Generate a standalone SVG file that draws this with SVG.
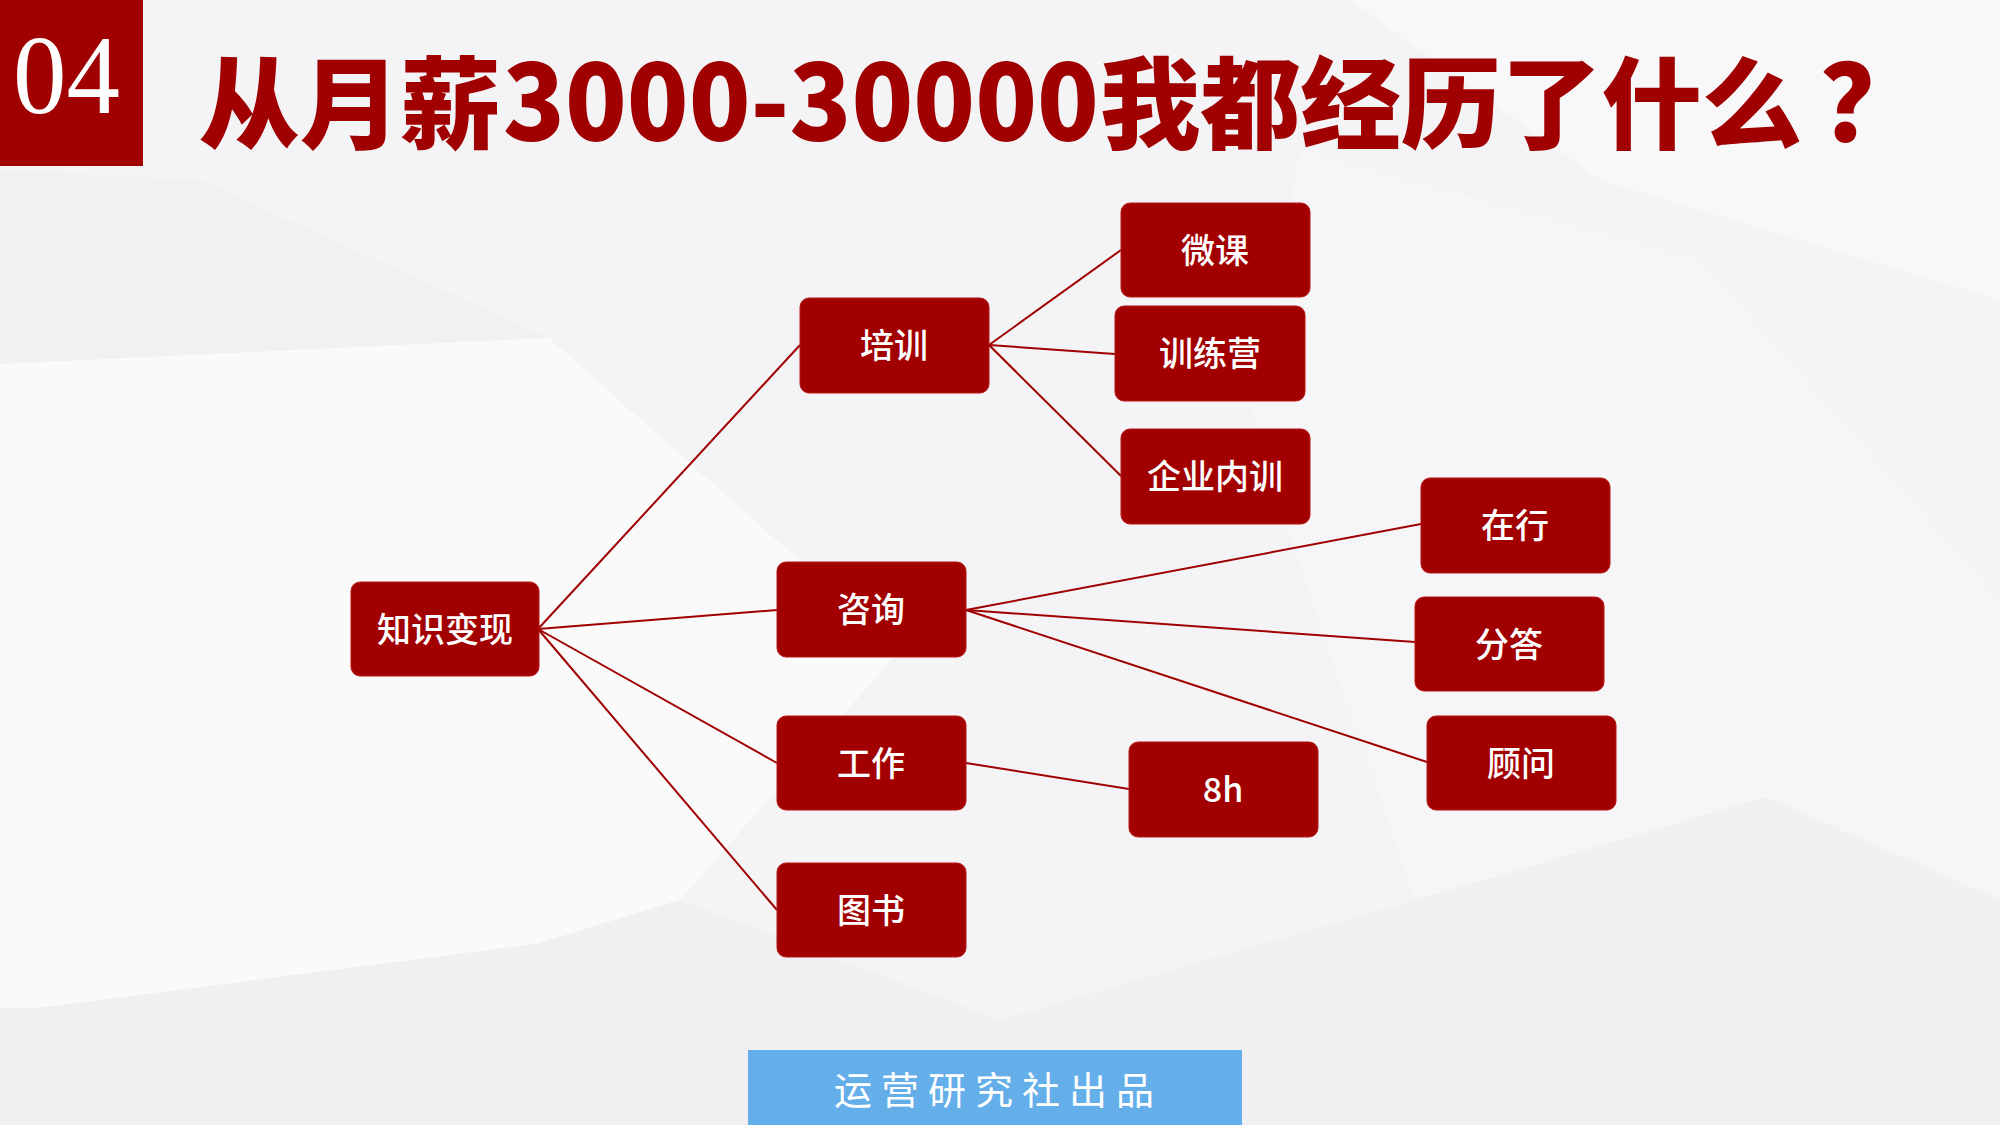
<svg xmlns="http://www.w3.org/2000/svg" width="2000" height="1125" viewBox="0 0 2000 1125">
<style>
.node rect{fill:#a20000;stroke:#b81414;stroke-width:1}
.node text{fill:#ffffff;font-family:"Noto Sans CJK SC","Noto Sans",sans-serif;font-size:34px;font-weight:500;text-anchor:middle}
#connectors line{stroke:#a00000;stroke-width:2}
</style>
<g id="background">
<rect x="0" y="0" width="2000" height="1125" fill="#f4f4f6"/>
<polygon points="0,170 200,180 549,338 0,364" fill="#f1f1f3"/>
<polygon points="0,364 549,338 900,650 680,900 536,944 38,1008 0,1008" fill="#fafafb"/>
<polygon points="0,1008 38,1008 536,944 680,900 1000,1020 1415,900 1766,797 2000,900 2000,1125 0,1125" fill="#f0f0f2"/>
<polygon points="1350,0 2000,0 2000,300 1600,180" fill="#f8f8fa"/>
<polygon points="1300,150 1700,260 2000,600 2000,900 1766,797 1415,900 1250,420" fill="#f6f6f8"/>
</g>
<g id="header">
<rect x="0" y="0" width="143" height="166" fill="#a00000"/>
<text x="13" y="113" font-family="Liberation Serif, serif" font-size="112" fill="#ffffff" textLength="107" lengthAdjust="spacingAndGlyphs">04</text>
<text y="141" font-family="Noto Sans CJK SC, sans-serif" font-size="106" font-weight="900" fill="#a00000"><tspan x="199" font-size="100" textLength="302" lengthAdjust="spacingAndGlyphs">从月薪</tspan><tspan x="503" textLength="596" lengthAdjust="spacingAndGlyphs">3000-30000</tspan><tspan x="1100" font-size="100" textLength="702" lengthAdjust="spacingAndGlyphs">我都经历了什么</tspan><tspan x="1820">？</tspan></text>
</g>
<g id="connectors">
<line x1="538" y1="629" x2="800" y2="345"/>
<line x1="538" y1="629" x2="777" y2="610"/>
<line x1="538" y1="629" x2="777" y2="763"/>
<line x1="538" y1="629" x2="777" y2="910"/>
<line x1="989" y1="345" x2="1121" y2="250"/>
<line x1="989" y1="345" x2="1115" y2="354"/>
<line x1="989" y1="345" x2="1121" y2="476"/>
<line x1="966" y1="610" x2="1421" y2="524"/>
<line x1="966" y1="610" x2="1415" y2="642"/>
<line x1="966" y1="610" x2="1427" y2="762"/>
<line x1="966" y1="763" x2="1129" y2="789"/>
</g>
<g id="n-zhishi" class="node"><rect x="351" y="582" width="188" height="94" rx="9"/><text x="445" y="642">知识变现</text></g>
<g id="n-peixun" class="node"><rect x="800" y="298" width="189" height="95" rx="9"/><text x="894" y="358">培训</text></g>
<g id="n-zixun" class="node"><rect x="777" y="562" width="189" height="95" rx="9"/><text x="871" y="622">咨询</text></g>
<g id="n-gongzuo" class="node"><rect x="777" y="716" width="189" height="94" rx="9"/><text x="871" y="776">工作</text></g>
<g id="n-tushu" class="node"><rect x="777" y="863" width="189" height="94" rx="9"/><text x="871" y="923">图书</text></g>
<g id="n-weike" class="node"><rect x="1121" y="203" width="189" height="94" rx="9"/><text x="1215" y="263">微课</text></g>
<g id="n-xunlianying" class="node"><rect x="1115" y="306" width="190" height="95" rx="9"/><text x="1210" y="366">训练营</text></g>
<g id="n-qiye" class="node"><rect x="1121" y="429" width="189" height="95" rx="9"/><text x="1215" y="489">企业内训</text></g>
<g id="n-zaihang" class="node"><rect x="1421" y="478" width="189" height="95" rx="9"/><text x="1515" y="538">在行</text></g>
<g id="n-fenda" class="node"><rect x="1415" y="597" width="189" height="94" rx="9"/><text x="1509" y="657">分答</text></g>
<g id="n-guwen" class="node"><rect x="1427" y="716" width="189" height="94" rx="9"/><text x="1521" y="776">顾问</text></g>
<g id="n-8h" class="node"><rect x="1129" y="742" width="189" height="95" rx="9"/><text x="1223" y="802">8h</text></g>
<g id="footer">
<rect x="748" y="1050" width="494" height="75" fill="#64aeea"/>
<text x="834" y="1104" font-family="Noto Sans CJK SC, sans-serif" font-size="38" fill="#ffffff" textLength="320" lengthAdjust="spacing">运营研究社出品</text>
</g>
</svg>
